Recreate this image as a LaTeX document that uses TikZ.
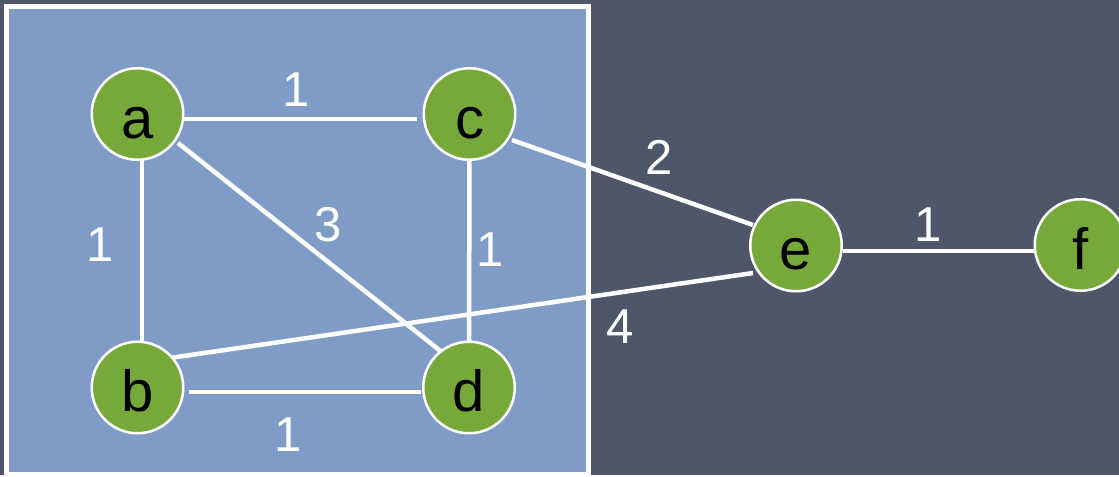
\documentclass[tikz,border=0pt]{standalone}
\usepackage{fontspec}
\setmainfont{Liberation Sans}
\definecolor{slate}{HTML}{4E576A}
\definecolor{panel}{HTML}{7E9CC6}
\definecolor{leaf}{HTML}{77A93A}
\pgfdeclarelayer{back}
\pgfdeclarelayer{wires}
\pgfsetlayers{back,wires,main}
\begin{document}
\begin{tikzpicture}[x=1pt,y=-1pt,
  vertex/.style={circle,draw=white,line width=2.5pt,fill=leaf,minimum size=91.5pt,
    inner sep=0pt,text height=48pt,text depth=0pt,
    font=\fontsize{58}{60}\selectfont,text=black},
  weight/.style={inner sep=0pt,text=white,font=\fontsize{49}{50}\selectfont},
  edge/.style={draw=white,line width=4.5pt}]
  % backdrop and framed panel
  \begin{pgfonlayer}{back}
    \fill[slate] (0,0) rectangle (1119,475);
    \filldraw[fill=panel,draw=white,line width=5pt] (6.7,6.7) rectangle (588.5,474);
  \end{pgfonlayer}
  \useasboundingbox (0,0) rectangle (1119,475);

  % vertices
  \node[vertex] (a) at (137.5,114) {a};
  \node[vertex] (c) at (469.5,114) {c};
  \node[vertex] (b) at (137.5,387.5) {b};
  \node[vertex] (d) at (469,387.5) {d};
  \node[vertex] (e) at (796,245.5) {e};
  \node[vertex] (f) at (1080.5,245) {f};

  % edges, kept behind the vertices
  \begin{pgfonlayer}{wires}
    \draw[edge] ([shift={(46.5,5)}]a.center) -- ([shift={(-52.5,5)}]c.center);
    \draw[edge] ([shift={(4.5,44)}]a.center) -- ([shift={(4.5,-46.5)}]b.center);
    \draw[edge] ([shift={(51.5,4.5)}]b.center) -- ([shift={(-48,4.5)}]d.center);
    \draw[edge] ([shift={(0,44)}]c.center) -- ([shift={(0,-46)}]d.center);
    \draw[edge] ([shift={(40.5,29)}]a.center) -- ([shift={(-26,-34.5)}]d.center);
    \draw[edge] ([shift={(42.5,26)}]c.center) -- ([shift={(-43,-20.5)}]e.center);
    \draw[edge] ([shift={(32.5,-29.5)}]b.center) -- ([shift={(-43,27.5)}]e.center);
    \draw[edge] ([shift={(47,5.5)}]e.center) -- ([shift={(-46.5,6)}]f.center);
  \end{pgfonlayer}

  % edge weights
  \node[weight] (wac) at (296,89.5) {1};
  \node[weight] (wab) at (100,245) {1};
  \node[weight] (wad) at (328,225) {3};
  \node[weight] (wcd) at (490,250) {1};
  \node[weight] (wbd) at (288,435) {1};
  \node[weight] (wce) at (659,157.5) {2};
  \node[weight] (wbe) at (620,327) {4};
  \node[weight] (wef) at (928,225) {1};
\end{tikzpicture}
\end{document}
